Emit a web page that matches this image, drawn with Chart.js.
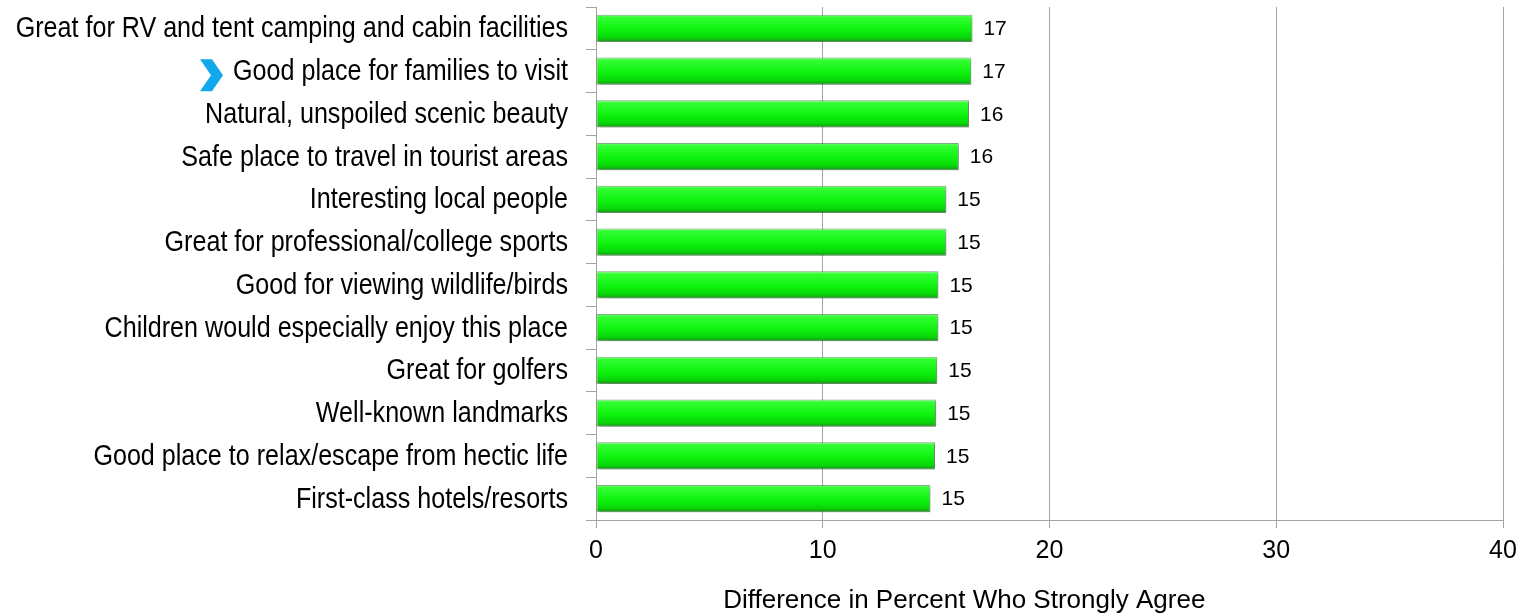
<!DOCTYPE html>
<html>
<head>
<meta charset="utf-8">
<script src="https://cdn.jsdelivr.net/npm/chart.js@4.4.1/dist/chart.umd.min.js"></script>
<style>
  html, body { margin: 0; padding: 0; background: #ffffff; }
  #wrap { position: relative; width: 1527px; height: 616px; }
</style>
</head>
<body>
<div id="wrap"><canvas id="chart"></canvas></div>
<script>
// Attributes rated, top to bottom
const categories = [
  'Great for RV and tent camping and cabin facilities',
  'Good place for families to visit',
  'Natural, unspoiled scenic beauty',
  'Safe place to travel in tourist areas',
  'Interesting local people',
  'Great for professional/college sports',
  'Good for viewing wildlife/birds',
  'Children would especially enjoy this place',
  'Great for golfers',
  'Well-known landmarks',
  'Good place to relax/escape from hectic life',
  'First-class hotels/resorts'
];

// Difference in percent who strongly agree (labels show the rounded value)
const differences = [16.6, 16.55, 16.45, 16.0, 15.45, 15.45, 15.1, 15.1, 15.05, 15.0, 14.95, 14.75];

// Horizontal axis ticks
const axisTicks = [0, 10, 20, 30, 40];

const axisTitle = 'Difference in Percent Who Strongly Agree';
const highlighted = 'Good place for families to visit';

const BAR_PCT = 0.635;
const LABEL_FONT = '29px "Liberation Sans", Arial, sans-serif';
const LABEL_SQUEEZE = 0.866;   // condensed look for the category names
const LABEL_GAP = 28;          // axis line to right edge of category names

// Glossy green fill, brighter on top and darker along the bottom edge
function barFill(c) {
  const chart = c.chart;
  const y = chart.scales && chart.scales.y;
  if (!chart.chartArea || !y || c.dataIndex === undefined) return '#10f010';
  const center = y.getPixelForValue(c.dataIndex);
  const band = (y.bottom - y.top) / categories.length;
  const h = band * BAR_PCT / 2;
  const g = chart.ctx.createLinearGradient(0, center - h, 0, center + h);
  g.addColorStop(0, '#7dff7d');
  g.addColorStop(0.1, '#33ff33');
  g.addColorStop(0.55, '#0ef20e');
  g.addColorStop(0.85, '#08d608');
  g.addColorStop(1, '#1b8f1b');
  return g;
}

// Soft drop shadow under the bars
const barShadow = {
  id: 'barShadow',
  beforeDatasetDraw(chart) {
    const ctx = chart.ctx;
    ctx.save();
    ctx.shadowColor = 'rgba(0,0,0,0.30)';
    ctx.shadowBlur = 4;
    ctx.shadowOffsetX = 2;
    ctx.shadowOffsetY = 2;
  },
  afterDatasetDraw(chart) {
    chart.ctx.restore();
  }
};

// Condensed category names placed at the category scale's tick positions
const categoryLabels = {
  id: 'categoryLabels',
  afterDraw(chart) {
    const ctx = chart.ctx;
    const yScale = chart.scales.y;
    const x = yScale.right - LABEL_GAP;
    ctx.save();
    ctx.fillStyle = '#000000';
    ctx.font = LABEL_FONT;
    ctx.textAlign = 'right';
    ctx.textBaseline = 'middle';
    yScale.ticks.forEach((t, i) => {
      const y = yScale.getPixelForTick(i);
      ctx.save();
      ctx.translate(x, y + 1);
      ctx.scale(LABEL_SQUEEZE, 1);
      ctx.fillText(yScale.getLabelForValue(t.value), 0, 0);
      ctx.restore();
    });

    // chevron in front of the highlighted attribute
    const idx = categories.indexOf(highlighted);
    if (idx >= 0) {
      const tw = ctx.measureText(highlighted).width * LABEL_SQUEEZE;
      const right = x - tw - 10;
      const cy = yScale.getPixelForValue(idx) + 4;
      ctx.fillStyle = '#12a9ec';
      ctx.beginPath();
      ctx.moveTo(right - 23, cy - 16);
      ctx.lineTo(right - 11, cy - 16);
      ctx.lineTo(right, cy);
      ctx.lineTo(right - 11, cy + 16);
      ctx.lineTo(right - 23, cy + 16);
      ctx.lineTo(right - 12, cy);
      ctx.closePath();
      ctx.fill();
    }
    ctx.restore();
  }
};

// Value labels to the right of each bar and the horizontal axis title
const annotations = {
  id: 'annotations',
  afterDatasetsDraw(chart) {
    const ctx = chart.ctx;
    const meta = chart.getDatasetMeta(0);
    ctx.save();
    ctx.fillStyle = '#000000';
    ctx.font = '21px "Liberation Sans", Arial, sans-serif';
    ctx.textAlign = 'left';
    ctx.textBaseline = 'middle';
    meta.data.forEach((bar, i) => {
      ctx.fillText(String(Math.round(differences[i])), bar.x + 11, bar.y + 1);
    });

    const area = chart.chartArea;
    ctx.font = '26px "Liberation Sans", Arial, sans-serif';
    ctx.textAlign = 'center';
    ctx.fillText(axisTitle, area.left + (area.right - area.left) * 0.406, 601);
    ctx.restore();
  }
};

new Chart(document.getElementById('chart'), {
  type: 'bar',
  data: {
    labels: categories,
    datasets: [{
      data: differences,
      backgroundColor: barFill,
      borderColor: 'rgba(30,120,30,0.55)',
      borderWidth: 1,
      borderSkipped: false,
      barPercentage: BAR_PCT,
      categoryPercentage: 1
    }]
  },
  options: {
    indexAxis: 'y',
    responsive: true,
    maintainAspectRatio: false,
    animation: false,
    layout: { padding: { top: 7, right: 24, left: 0, bottom: 0 } },
    plugins: {
      legend: { display: false },
      tooltip: { enabled: false },
      title: { display: false }
    },
    scales: {
      x: {
        type: 'linear',
        min: axisTicks[0],
        max: axisTicks[axisTicks.length - 1],
        afterBuildTicks(scale) {
          scale.ticks = axisTicks.map(v => ({ value: v }));
        },
        afterFit(scale) { scale.height = 96; },
        grid: {
          color: '#a3a3a3',
          lineWidth: 1,
          drawTicks: true,
          tickLength: 8
        },
        border: { color: '#a3a3a3', width: 1 },
        ticks: {
          color: '#000000',
          padding: 8,
          font: { family: '"Liberation Sans", Arial, sans-serif', size: 25 }
        }
      },
      y: {
        afterFit(scale) { scale.width = 596; },
        grid: {
          offset: true,
          drawOnChartArea: false,
          drawTicks: true,
          tickLength: 10,
          color: '#a3a3a3'
        },
        border: { color: '#a3a3a3', width: 1 },
        ticks: {
          display: false,
          autoSkip: false
        }
      }
    }
  },
  plugins: [barShadow, categoryLabels, annotations]
});
</script>
</body>
</html>
